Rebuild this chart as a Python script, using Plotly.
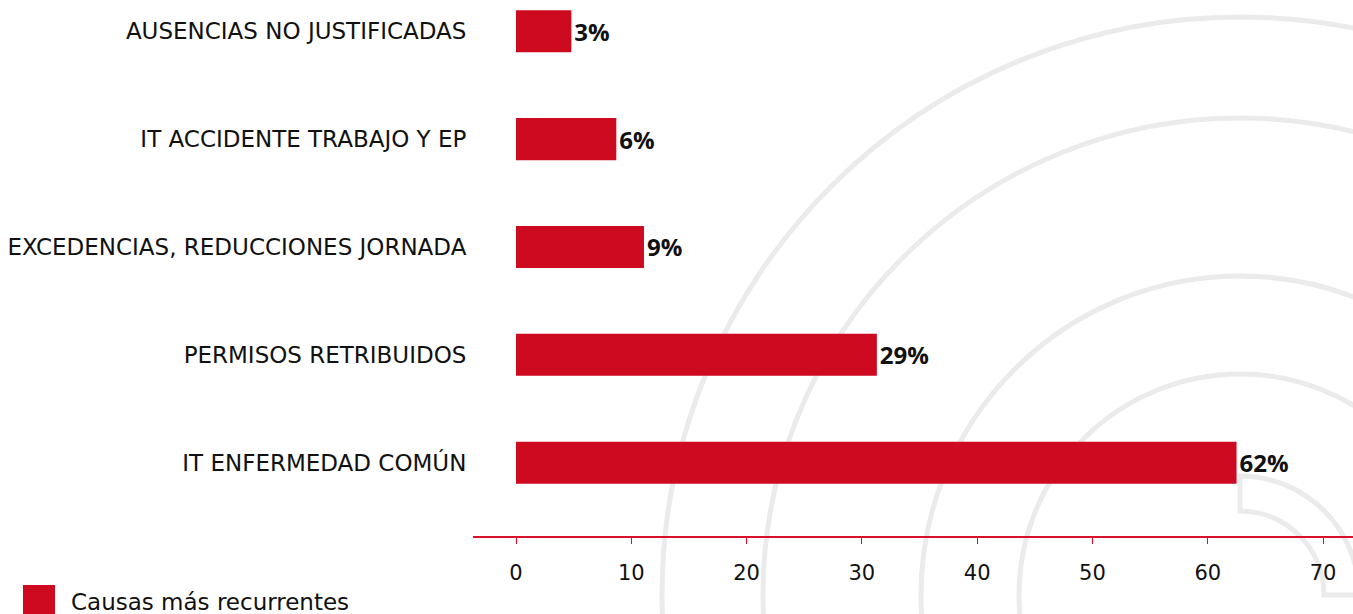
import plotly.graph_objects as go

# ---- data (bottom-to-top order, as Plotly draws horizontal categories) ----
categories = [
    "IT ENFERMEDAD COMÚN",
    "PERMISOS RETRIBUIDOS",
    "EXCEDENCIAS, REDUCCIONES JORNADA",
    "IT ACCIDENTE TRABAJO Y EP",
    "AUSENCIAS NO JUSTIFICADAS",
]
bar_values = [62.5, 31.3, 11.1, 8.7, 4.8]
value_labels = ["62%", "29%", "9%", "6%", "3%"]
x_ticks = [0, 10, 20, 30, 40, 50, 60, 70]
series_name = "Causas más recurrentes"

RED = "#CD0A20"
TXT = "#111111"
W, H = 1353, 614
ML, MR, MT, MB = 473, 0, 0, 78
PW, PH = W - ML - MR, H - MT - MB


def px_x(px):
    return (px - ML) / PW


def px_y(py):
    return (H - MB - py) / PH


fig = go.Figure()
fig.add_trace(go.Bar(
    y=categories,
    x=bar_values,
    orientation="h",
    name=series_name,
    marker=dict(color=RED, line=dict(width=0)),
    text=value_labels,
    textposition="outside",
    textfont=dict(family="Open Sans", size=24, color=TXT, weight="bold"),
    cliponaxis=False,
    showlegend=False,
))

shapes = []
# decorative concentric arcs in the background
cx, cy = px_x(1240), px_y(595)
for r in [578, 477, 319, 221]:
    shapes.append(dict(
        type="circle", xref="paper", yref="paper",
        xsizemode="pixel", ysizemode="pixel",
        xanchor=cx, yanchor=cy,
        x0=-r, x1=r, y0=-r, y1=r,
        line=dict(color="#ebebeb", width=5), layer="below",
    ))
Ro, Ri, k = 119, 84, 0.5523
path = (f"M 0,{Ro} C {k*Ro},{Ro} {Ro},{k*Ro} {Ro},0 L {Ri},0 "
        f"C {Ri},{k*Ri} {k*Ri},{Ri} 0,{Ri} Z")
shapes.append(dict(
    type="path", xref="paper", yref="paper",
    xsizemode="pixel", ysizemode="pixel",
    xanchor=cx, yanchor=cy, path=path,
    line=dict(color="#ebebeb", width=5), layer="below",
))
# legend swatch
shapes.append(dict(
    type="rect", xref="paper", yref="paper",
    x0=px_x(23), x1=px_x(55), y0=px_y(585), y1=px_y(625),
    fillcolor=RED, line=dict(width=0),
))

fig.update_layout(
    width=W, height=H,
    margin=dict(l=ML, r=MR, t=MT, b=MB, pad=0),
    paper_bgcolor="white",
    plot_bgcolor="rgba(0,0,0,0)",
    bargap=0.61,
    shapes=shapes,
    annotations=[dict(
        text=series_name, xref="paper", yref="paper",
        x=px_x(69), y=px_y(602), xanchor="left", yanchor="middle",
        showarrow=False, font=dict(family="DejaVu Sans", size=23, color=TXT),
    )],
    xaxis=dict(
        range=[-3.73, 72.6],
        tickvals=x_ticks,
        showgrid=False, zeroline=False,
        showline=True, linecolor="#D8102A", linewidth=1.5,
        ticks="outside", ticklen=6, tickcolor="#D8102A", tickwidth=1.2,
        tickfont=dict(family="DejaVu Sans", size=21, color=TXT),
        ticklabelstandoff=11,
        fixedrange=True,
    ),
    yaxis=dict(
        range=[-0.68, 4.29],
        showgrid=False, zeroline=False, showline=False,
        ticks="outside", ticklen=1, tickcolor="rgba(0,0,0,0)",
        tickfont=dict(family="DejaVu Sans", size=23, color=TXT),
        fixedrange=True,
    ),
)

fig.write_html(
    "out.html",
    config={"displayModeBar": False},
    post_script="document.body.style.margin='0';document.body.style.overflow='hidden';",
)
